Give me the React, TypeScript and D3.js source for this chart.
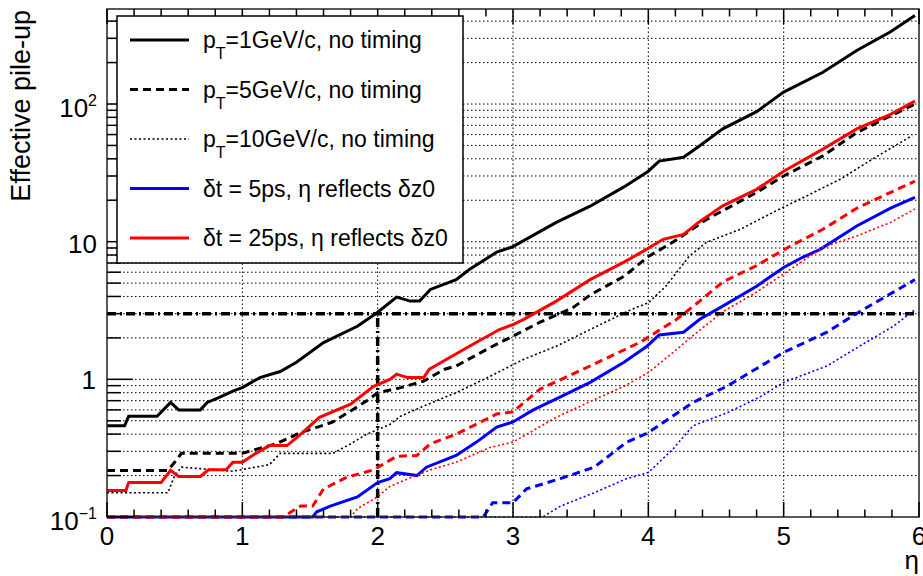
import React, { useEffect, useRef } from "react";
import * as d3 from "d3";

type Pt = [number, number];

// pT = 1, 5, 10 GeV/c without timing (black)
const pt1NoTiming: Pt[] = [[0,0.46],[0.13,0.46],[0.16,0.54],[0.37,0.54],[0.47,0.68],[0.53,0.6],[0.69,0.6],[0.74,0.68],[0.83,0.74],[0.93,0.82],[1.0,0.87],[1.13,1.03],[1.28,1.14],[1.4,1.33],[1.6,1.85],[1.85,2.43],[2.0,3.07],[2.14,3.96],[2.24,3.7],[2.31,3.7],[2.39,4.5],[2.58,5.3],[2.68,6.3],[2.88,8.4],[3.0,9.2],[3.32,13.8],[3.57,18.1],[3.82,25],[4.0,32.5],[4.08,38.5],[4.26,41],[4.37,49],[4.55,66],[4.8,88],[5.0,122],[5.29,170],[5.54,245],[5.79,335],[5.97,440]];
const pt5NoTiming: Pt[] = [[0,0.218],[0.45,0.218],[0.5,0.25],[0.55,0.29],[1.0,0.29],[1.1,0.31],[1.25,0.34],[1.43,0.41],[1.67,0.49],[1.92,0.7],[2.0,0.8],[2.17,0.87],[2.34,0.97],[2.49,1.18],[2.58,1.25],[2.83,1.7],[3.0,2.06],[3.2,2.6],[3.44,3.3],[3.57,4.1],[3.82,5.6],[4.0,7.8],[4.18,9.9],[4.43,14.5],[4.8,22.8],[5.0,30],[5.29,42],[5.54,62],[5.79,82],[5.97,100]];
const pt10NoTiming: Pt[] = [[0,0.15],[0.45,0.15],[0.5,0.2],[0.55,0.23],[0.93,0.215],[1.2,0.24],[1.28,0.29],[1.67,0.29],[1.8,0.34],[1.92,0.4],[2.09,0.47],[2.17,0.54],[2.34,0.64],[2.58,0.8],[2.83,1.05],[3.08,1.4],[3.32,1.74],[3.57,2.3],[3.87,3.2],[4.0,3.6],[4.13,4.75],[4.3,7.8],[4.43,9.9],[4.68,12.3],[4.92,16.3],[5.17,21.5],[5.42,28.5],[5.66,40],[5.95,59]];

// dt = 5 ps (blue)
const dt5pt1: Pt[] = [[0,0.1],[1.52,0.1],[1.55,0.109],[1.65,0.12],[1.85,0.14],[2.0,0.178],[2.09,0.19],[2.14,0.21],[2.29,0.2],[2.36,0.23],[2.58,0.28],[2.73,0.35],[2.88,0.45],[3.0,0.49],[3.15,0.6],[3.32,0.72],[3.57,0.95],[3.82,1.33],[3.99,1.74],[4.08,2.1],[4.26,2.2],[4.38,2.73],[4.55,3.4],[4.8,4.75],[5.0,6.5],[5.14,7.7],[5.27,8.8],[5.54,13],[5.79,17.5],[5.97,21]];
const dt5pt5: Pt[] = [[0,0.1],[2.78,0.1],[2.85,0.127],[3.0,0.127],[3.1,0.16],[3.35,0.19],[3.6,0.23],[3.84,0.35],[4.0,0.41],[4.33,0.68],[4.58,0.89],[5.0,1.57],[5.32,2.2],[5.56,3.1],[5.81,4.3],[5.97,5.3]];
const dt5pt10: Pt[] = [[0,0.1],[3.22,0.1],[3.35,0.12],[3.6,0.15],[3.84,0.19],[4.0,0.21],[4.18,0.31],[4.33,0.46],[4.58,0.57],[4.83,0.75],[5.0,0.95],[5.32,1.25],[5.56,1.74],[5.81,2.43],[5.97,3.2]];

// dt = 25 ps (red)
const dt25pt1: Pt[] = [[0,0.156],[0.14,0.156],[0.16,0.178],[0.4,0.178],[0.47,0.218],[0.53,0.197],[0.69,0.197],[0.75,0.22],[0.88,0.22],[0.93,0.25],[1.0,0.25],[1.1,0.29],[1.2,0.33],[1.33,0.33],[1.42,0.39],[1.57,0.53],[1.8,0.66],[1.97,0.89],[2.09,1.0],[2.14,1.09],[2.22,1.03],[2.34,1.03],[2.38,1.18],[2.51,1.4],[2.73,1.86],[2.9,2.3],[3.0,2.5],[3.08,2.73],[3.32,3.7],[3.57,5.3],[3.82,7.1],[3.96,8.5],[4.11,10.4],[4.26,11.3],[4.37,13.8],[4.55,18.2],[4.8,24],[5.0,32.5],[5.29,47],[5.54,66],[5.79,84],[5.97,105]];
const dt25pt5: Pt[] = [[0,0.1],[1.3,0.1],[1.43,0.12],[1.52,0.12],[1.6,0.16],[1.77,0.194],[1.97,0.22],[2.14,0.276],[2.29,0.28],[2.39,0.34],[2.58,0.4],[2.88,0.56],[3.0,0.58],[3.2,0.85],[3.57,1.25],[3.94,1.86],[4.21,2.73],[4.38,3.7],[4.55,5.1],[4.8,6.7],[5.05,9.3],[5.29,12.3],[5.54,17.5],[5.79,22.8],[5.97,27.5]];
const dt25pt10: Pt[] = [[0,0.1],[1.8,0.1],[1.85,0.115],[2.0,0.14],[2.09,0.167],[2.17,0.18],[2.39,0.22],[2.58,0.25],[2.83,0.32],[3.0,0.35],[3.32,0.53],[3.57,0.69],[3.82,0.89],[4.0,1.12],[4.21,1.65],[4.31,2.0],[4.55,3.1],[4.8,4.3],[5.05,6.3],[5.29,9.1],[5.54,11],[5.79,13.8],[5.97,17.3]];

const legendLabels = [
  "=1GeV/c, no timing",
  "=5GeV/c, no timing",
  "=10GeV/c, no timing",
  "\u03b4t = 5ps, \u03b7 reflects \u03b4z0",
  "\u03b4t = 25ps, \u03b7 reflects \u03b4z0",
];
const xTickLabels = ["0", "1", "2", "3", "4", "5", "6"];
const threshold = 3;
const thresholdEta = 2;

const SOLID = "none";
const DASHED = "8,5";
const DOTTED = "2,2.5";

function App() {
  const ref = useRef<SVGSVGElement | null>(null);
  const width = 923;
  const height = 576;
  const marginTop = 9;
  const marginRight = 4;
  const marginBottom = 59;
  const marginLeft = 107;

  useEffect(() => {
    const x = d3.scaleLinear().domain([0, 6]).range([marginLeft, width - marginRight]);
    const y = d3
      .scaleLog()
      .domain([0.1, 490])
      .range([height - marginBottom, marginTop])
      .clamp(true);

    const svg = d3.select(ref.current);
    svg.selectAll("*").remove();
    svg
      .attr("width", width)
      .attr("height", height)
      .attr("viewBox", [0, 0, width, height])
      .attr("style", "position:absolute;left:0;top:0;background:white;font-family:'Liberation Sans', Arial, sans-serif;");

    const x0 = marginLeft;
    const x1 = width - marginRight;
    const y0 = height - marginBottom;
    const y1 = marginTop;

    // y grid / ticks values
    const majorY = [0.1, 1, 10, 100];
    const minorY: number[] = [];
    majorY.forEach((m) => {
      for (let k = 2; k <= 9; k++) if (m * k < 490) minorY.push(m * k);
    });

    const grid = svg.append("g").attr("stroke", "#000").attr("stroke-width", 1).attr("stroke-dasharray", "1.5,2.5");
    grid
      .selectAll("line.h")
      .data([...majorY.slice(1), ...minorY])
      .join("line")
      .attr("x1", x0)
      .attr("x2", x1)
      .attr("y1", (d) => y(d))
      .attr("y2", (d) => y(d));
    grid
      .selectAll("line.v")
      .data([1, 2, 3, 4, 5])
      .join("line")
      .attr("x1", (d) => x(d))
      .attr("x2", (d) => x(d))
      .attr("y1", y0)
      .attr("y2", y1);

    // threshold lines
    const thr = svg.append("g").attr("stroke", "#000").attr("stroke-width", 3.5).attr("stroke-dasharray", "9,4,2,4");
    thr.append("line").attr("x1", x0).attr("x2", x1).attr("y1", y(threshold)).attr("y2", y(threshold));
    thr.append("line").attr("x1", x(thresholdEta)).attr("x2", x(thresholdEta)).attr("y1", y0).attr("y2", y(threshold));

    const line = d3
      .line<Pt>()
      .x((d) => x(d[0]))
      .y((d) => y(d[1]));

    const series: { data: Pt[]; color: string; dash: string; w: number }[] = [
      { data: pt10NoTiming, color: "#000", dash: DOTTED, w: 1.6 },
      { data: pt5NoTiming, color: "#000", dash: DASHED, w: 3 },
      { data: pt1NoTiming, color: "#000", dash: SOLID, w: 3 },
      { data: dt5pt10, color: "#0000ff", dash: DOTTED, w: 1.6 },
      { data: dt5pt5, color: "#0000ff", dash: DASHED, w: 3 },
      { data: dt5pt1, color: "#0000ff", dash: SOLID, w: 3 },
      { data: dt25pt10, color: "#ff0000", dash: DOTTED, w: 1.6 },
      { data: dt25pt5, color: "#ff0000", dash: DASHED, w: 3 },
      { data: dt25pt1, color: "#ff0000", dash: SOLID, w: 3 },
    ];

    svg
      .append("g")
      .attr("fill", "none")
      .selectAll("path")
      .data(series)
      .join("path")
      .attr("stroke", (d) => d.color)
      .attr("stroke-width", (d) => d.w)
      .attr("stroke-dasharray", (d) => d.dash)
      .attr("d", (d) => line(d.data));

    // frame
    svg
      .append("rect")
      .attr("x", x0)
      .attr("y", y1)
      .attr("width", x1 - x0)
      .attr("height", y0 - y1)
      .attr("fill", "none")
      .attr("stroke", "#222")
      .attr("stroke-width", 1.5);

    // axis ticks
    const axes = svg.append("g").attr("stroke", "#000").attr("stroke-width", 1.5);
    const xMinor = d3.range(0, 6.001, 0.2);
    axes
      .selectAll("line.xb")
      .data(xMinor)
      .join("line")
      .attr("x1", (d) => x(d))
      .attr("x2", (d) => x(d))
      .attr("y1", y0)
      .attr("y2", (d) => y0 - (Math.abs(d - Math.round(d)) < 1e-6 ? 15 : 7.5));
    axes
      .selectAll("line.xt")
      .data(xMinor)
      .join("line")
      .attr("x1", (d) => x(d))
      .attr("x2", (d) => x(d))
      .attr("y1", y1)
      .attr("y2", (d) => y1 + (Math.abs(d - Math.round(d)) < 1e-6 ? 15 : 7.5));
    axes
      .selectAll("line.yl")
      .data([...majorY.map((v) => ({ v, major: true })), ...minorY.map((v) => ({ v, major: false }))])
      .join("line")
      .attr("x1", x0)
      .attr("x2", (d) => x0 + (d.major ? 26 : 14))
      .attr("y1", (d) => y(d.v))
      .attr("y2", (d) => y(d.v));

    // x tick labels
    svg
      .append("g")
      .attr("font-size", 26)
      .attr("text-anchor", "middle")
      .selectAll("text")
      .data(xTickLabels)
      .join("text")
      .attr("x", (d) => x(+d))
      .attr("y", y0 + 28)
      .text((d) => d);

    // y tick labels
    const yl = svg.append("g").attr("font-size", 26).attr("text-anchor", "end");
    const lab1 = yl.append("text").attr("x", 97).attr("y", y(0.1) + 13);
    lab1.append("tspan").text("10");
    lab1.append("tspan").attr("font-size", 16).attr("dy", -11).text("\u22121");
    yl.append("text").attr("x", 96).attr("y", y(1) + 10).text("1");
    yl.append("text").attr("x", 97).attr("y", y(10) + 11).text("10");
    const lab3 = yl.append("text").attr("x", 97).attr("y", y(100) + 13);
    lab3.append("tspan").text("10");
    lab3.append("tspan").attr("font-size", 16).attr("dy", -11).text("2");

    // axis titles
    svg
      .append("text")
      .attr("transform", "translate(30,10) rotate(-90)")
      .attr("text-anchor", "end")
      .attr("font-size", 27)
      .text("Effective pile-up");
    svg.append("text").attr("x", 919).attr("y", 569).attr("text-anchor", "end").attr("font-size", 26).text("\u03b7");

    // legend
    const lg = svg.append("g");
    lg.append("rect")
      .attr("x", 117)
      .attr("y", 16)
      .attr("width", 346)
      .attr("height", 247)
      .attr("fill", "white")
      .attr("stroke", "#000")
      .attr("stroke-width", 1.5);
    const legendStyles = [series[2], series[1], series[0], series[5], series[8]];
    const rowY = (i: number) => 40 + i * 49.5;
    lg.selectAll("line")
      .data(legendStyles)
      .join("line")
      .attr("x1", 130)
      .attr("x2", 189)
      .attr("y1", (_, i) => rowY(i))
      .attr("y2", (_, i) => rowY(i))
      .attr("stroke", (d) => d.color)
      .attr("stroke-width", (d) => d.w)
      .attr("stroke-dasharray", (d) => d.dash);
    lg.selectAll("text")
      .data(legendLabels)
      .join("text")
      .attr("x", 203)
      .attr("y", (_, i) => rowY(i) + 8)
      .attr("font-size", 23)
      .each(function (d, i) {
        const t = d3.select(this);
        if (i < 3) {
          t.append("tspan").text("p");
          t.append("tspan").attr("font-size", 16).attr("dy", 11).text("T");
          t.append("tspan").attr("dy", -11).text(d);
        } else {
          t.text(d);
        }
      });
  }, []);

  return <svg ref={ref}></svg>;
}

export default App;
